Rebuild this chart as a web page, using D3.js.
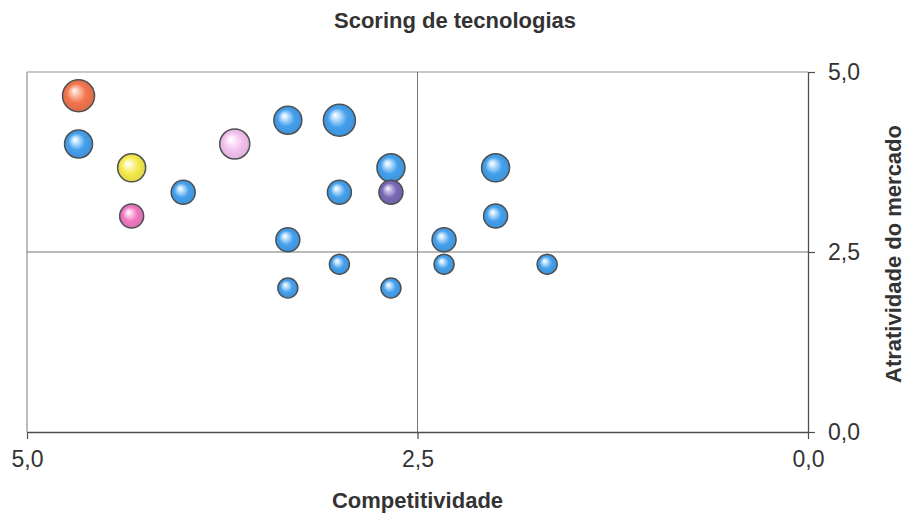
<!DOCTYPE html>
<html>
<head>
<meta charset="utf-8">
<script src="https://cdn.jsdelivr.net/npm/d3@7"></script>
<style>
  html, body { margin: 0; padding: 0; background: #fff; }
  svg { display: block; }
  text { font-family: "Liberation Sans", Arial, Helvetica, sans-serif; }
</style>
</head>
<body>
<svg id="chart" width="908" height="515"></svg>
<script>
// Technologies: competitiveness (x, reversed axis), market attractiveness (y), weight (bubble size)
const competitividade = [4.67, 4.67, 4.33, 4.33, 4.0, 3.67, 3.33, 3.0, 2.67, 2.67, 3.0, 3.33, 3.0, 3.33, 2.67, 2.33, 2.33, 2.0, 2.0, 1.67];
const atratividade   = [4.67, 4.0, 3.67, 3.0, 3.33, 4.0, 4.33, 4.33, 3.67, 3.33, 3.33, 2.67, 2.33, 2.0, 2.0, 2.67, 2.33, 3.67, 3.0, 2.33];
const peso           = [4, 3, 3, 2, 2, 3.5, 3, 4, 3, 2, 2, 2, 1, 1, 1, 2, 1, 3, 2, 1];
const cores          = ["laranja", "azul", "amarelo", "rosa", "azul", "lilas", "azul", "azul", "azul", "roxo",
                        "azul", "azul", "azul", "azul", "azul", "azul", "azul", "azul", "azul", "azul"];
const ticksValores   = [5.0, 2.5, 0.0];
const tickRotulo     = v => d3.format(".1f")(v).replace(".", ",");

const paleta = {
  laranja: { base: "#f2754f", luz: "#ffd2bf" },
  azul:    { base: "#44a0ec", luz: "#d4ecff" },
  amarelo: { base: "#f5ea4c", luz: "#fffbd4" },
  rosa:    { base: "#ef78c0", luz: "#ffd8ef" },
  lilas:   { base: "#f3c2ee", luz: "#fff0fd" },
  roxo:    { base: "#7a6ab4", luz: "#d6ccf2" }
};

const svg = d3.select("#chart");
const margin = { left: 27, right: 100, top: 72, bottom: 83 };
const W = 908, H = 515;

const x = d3.scaleLinear().domain([5, 0]).range([margin.left, W - margin.right]);
const y = d3.scaleLinear().domain([0, 5]).range([H - margin.bottom, margin.top]);
const r = d3.scaleLinear().domain([1, 4]).range([10, 16]);

// Sphere-like radial gradients
const defs = svg.append("defs");
Object.entries(paleta).forEach(([nome, c]) => {
  const g = defs.append("radialGradient")
    .attr("id", "grad-" + nome)
    .attr("cx", "50%").attr("cy", "50%").attr("r", "55%")
    .attr("fx", "36%").attr("fy", "33%");
  g.append("stop").attr("offset", "0%").attr("stop-color", "#ffffff");
  g.append("stop").attr("offset", "15%").attr("stop-color", c.luz);
  g.append("stop").attr("offset", "55%").attr("stop-color", c.base);
  g.append("stop").attr("offset", "100%").attr("stop-color", d3.color(c.base).darker(0.3));
});

// Plot frame (top and left edges) and quadrant dividers
svg.append("line")
  .attr("x1", x(5)).attr("x2", x(0)).attr("y1", y(5)).attr("y2", y(5))
  .attr("stroke", "#8c9294").attr("stroke-width", 1.2);
svg.append("line")
  .attr("x1", x(5)).attr("x2", x(5)).attr("y1", y(5)).attr("y2", y(0))
  .attr("stroke", "#8c9294").attr("stroke-width", 1.2);
svg.append("line")
  .attr("x1", x(2.5)).attr("x2", x(2.5)).attr("y1", y(5)).attr("y2", y(0))
  .attr("stroke", "#6f7778").attr("stroke-width", 1);
svg.append("line")
  .attr("x1", x(5)).attr("x2", x(0)).attr("y1", y(2.5)).attr("y2", y(2.5))
  .attr("stroke", "#6f7778").attr("stroke-width", 1);

// Bottom axis
const xAxis = svg.append("g")
  .attr("transform", `translate(0,${y(0)})`)
  .call(d3.axisBottom(x).tickValues(ticksValores).tickFormat(tickRotulo).tickSize(7).tickSizeOuter(0).tickPadding(12));
xAxis.select(".domain").attr("stroke", "#4a4f50").attr("stroke-width", 1.3);
xAxis.selectAll(".tick line").attr("stroke", "#4a4f50").attr("stroke-width", 1.2);
xAxis.selectAll(".tick text")
  .attr("font-size", 23).attr("fill", "#333")
  .attr("font-family", "'Liberation Sans', Arial, sans-serif");

// Right axis
const yAxis = svg.append("g")
  .attr("transform", `translate(${x(0)},0)`)
  .call(d3.axisRight(y).tickValues(ticksValores).tickFormat(tickRotulo).tickSize(7).tickSizeOuter(0).tickPadding(13));
yAxis.select(".domain").attr("stroke", "#4a4f50").attr("stroke-width", 1.3);
yAxis.selectAll(".tick line").attr("stroke", "#4a4f50").attr("stroke-width", 1.2);
yAxis.selectAll(".tick text")
  .attr("font-size", 23).attr("fill", "#333")
  .attr("font-family", "'Liberation Sans', Arial, sans-serif");

// Bubbles
const dados = competitividade.map((c, i) => ({
  x: c, y: atratividade[i], peso: peso[i], cor: cores[i]
}));
svg.append("g").selectAll("circle")
  .data(dados)
  .join("circle")
  .attr("cx", d => x(d.x))
  .attr("cy", d => y(d.y))
  .attr("r", d => r(d.peso))
  .attr("fill", d => `url(#grad-${d.cor})`)
  .attr("stroke", "#4d5052")
  .attr("stroke-width", 1.5);

// Titles
svg.append("text")
  .attr("x", 455).attr("y", 28)
  .attr("text-anchor", "middle")
  .attr("font-size", 22).attr("font-weight", "bold").attr("fill", "#333")
  .text("Scoring de tecnologias");

svg.append("text")
  .attr("x", x(2.5)).attr("y", 508)
  .attr("text-anchor", "middle")
  .attr("font-size", 22).attr("font-weight", "bold").attr("fill", "#333")
  .text("Competitividade");

svg.append("text")
  .attr("transform", `translate(901,${y(2.5) + 2}) rotate(-90)`)
  .attr("text-anchor", "middle")
  .attr("font-size", 22).attr("font-weight", "bold").attr("fill", "#333")
  .text("Atratividade do mercado");
</script>
</body>
</html>
